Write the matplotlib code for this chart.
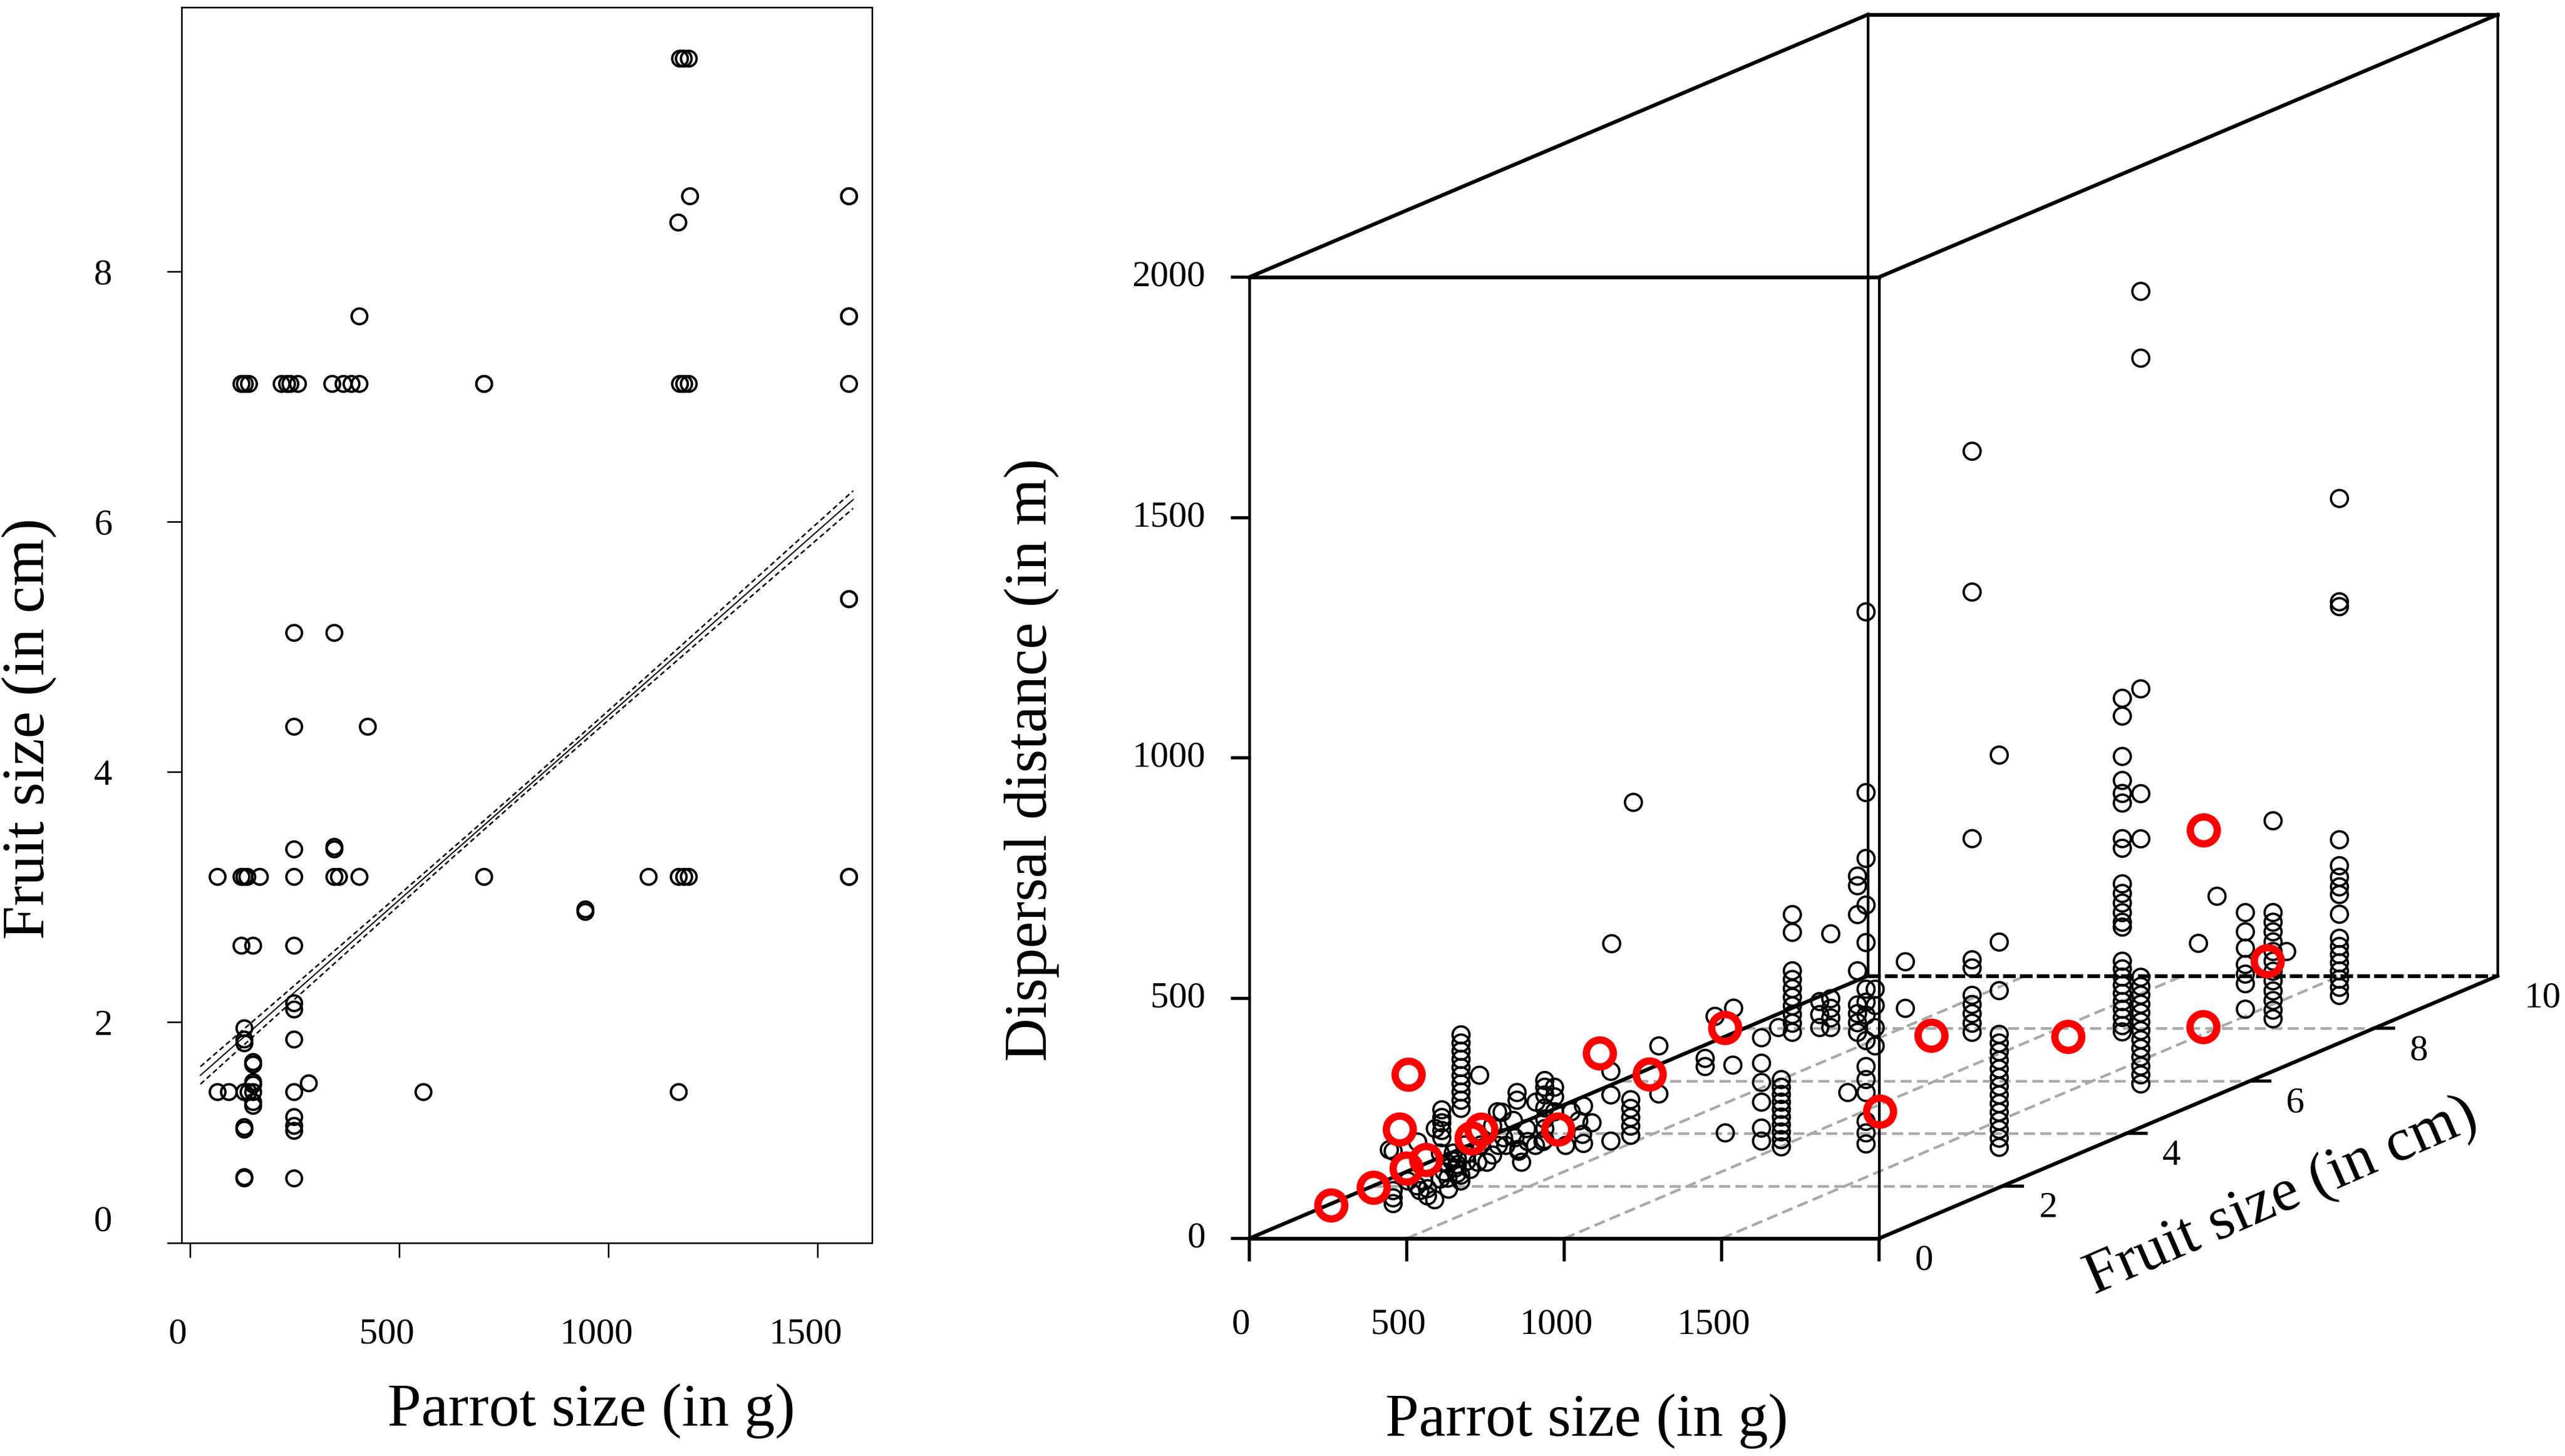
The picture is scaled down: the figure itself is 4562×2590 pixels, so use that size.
import numpy as np
import matplotlib
matplotlib.use("Agg")
import matplotlib.pyplot as plt
from matplotlib.transforms import ScaledTranslation

plt.rcParams['font.family'] = ['Liberation Serif', 'DejaVu Serif']

W, H, DPI = 4562, 2590, 100

# ---------------- left panel data (parrot size g, fruit size cm) ----------------
left_parrot = [1171, 1180, 1192, 1195, 1167, 1575, 1575, 405, 1575, 1575,
               123, 131, 141, 219, 232, 240, 258, 340, 367, 386, 405, 703, 703,
               1171, 1181, 1192, 1575,
               1575, 1575, 249, 345, 249, 425, 249, 345, 345,
               66, 123, 130, 137, 167, 249, 345, 356, 405, 703, 1096, 1168, 1181,
               1192, 1575, 1575,
               945, 945, 123, 151, 249, 249, 249, 130, 130, 130, 249, 151, 151,
               151, 151, 284,
               66, 93, 130, 140, 151, 249, 558, 1168,
               151, 151, 130, 130, 249, 249, 249, 130, 130, 249]
left_fruit = [9.70, 9.70, 9.70, 8.60, 8.39, 8.60, 8.60, 7.64, 7.64, 7.64,
              7.10, 7.10, 7.10, 7.10, 7.10, 7.10, 7.10, 7.10, 7.10, 7.10, 7.10, 7.10, 7.10,
              7.10, 7.10, 7.10, 7.10,
              5.38, 5.38, 5.11, 5.11, 4.36, 4.36, 3.38, 3.38, 3.40,
              3.16, 3.16, 3.16, 3.16, 3.16, 3.16, 3.16, 3.16, 3.16, 3.16, 3.16, 3.16, 3.16,
              3.16, 3.16, 3.16,
              2.88, 2.90, 2.61, 2.61, 2.61, 2.15, 2.10, 1.95, 1.86, 1.83, 1.86, 1.66, 1.68,
              1.52, 1.50, 1.51,
              1.44, 1.44, 1.44, 1.44, 1.44, 1.44, 1.44, 1.44,
              1.36, 1.33, 1.16, 1.14, 1.24, 1.17, 1.13, 0.75, 0.76, 0.75]

fit_intercept = 1.50
fit_slope = 0.00295
fit_range = [25, 1585]
ci_center, ci_spread, ci_mid = 0.035, 7.8e-5, 805

left_xticks = [0, 500, 1000, 1500]
left_ybottom = 0.234
left_yticks = [2, 4, 6, 8]

# ---------------- right panel data (3D: parrot g, fruit cm, distance m) ----------------
col_parrot = [1655, 1680, 1723, 1592, 1502, 1443, 1751, 1378, 1761, 901, 905, 1338, 1367,
              537, 1280, 452, 417, 330, 286, 1069, 1006, 891, 915, 827, 556, 497, 788, 827,
              758, 307, 366, 246, 423, 485, 573, 604, 545, 657, 681, 693, 696, 723, 783, 846,
              221, 209, 306, 330, 353, 318, 383, 371, 436, 466, 490, 519, 537, 555, 579,
              572, 608, 620, 649, 673, 697, 412, 407, 419, 448, 500, 397, 268, 299, 355,
              567, 603, 645, 769, 629, 296, 425, 455, 395]
col_fruit = [9.2, 8.0, 8.0, 8.0, 8.0, 8.0, 5.5, 7.1, 3.16, 7.1, 6.0, 3.16, 3.16,
             7.1, 3.16, 7.1, 7.1, 7.1, 7.1, 3.16, 3.16, 3.16, 3.16, 3.16, 5.0, 5.0, 2.61, 2.0,
             2.0, 1.86, 1.86, 1.86, 1.86, 1.86, 1.86, 1.86, 1.86, 1.86, 1.86, 1.86, 1.86, 1.86,
             1.86, 1.86,
             1.2, 1.2, 1.2, 1.2, 1.2, 1.2, 1.2, 1.2, 1.2, 1.2, 1.2, 1.2, 1.2, 1.2, 1.2,
             1.2, 1.2, 1.2, 1.2, 1.2, 1.2, 1.2, 1.2, 1.2, 1.2, 1.2, 1.2, 1.2, 1.2, 1.2,
             1.2, 1.2, 1.2, 1.2, 1.2, 1.2, 1.2, 1.2, 1.2]
col_dists = [
    [1037, 822, 812, 327, 273, 249, 229, 213, 172, 122, 105, 88, 71, 54, 37, 20, 3],
    [432, 241, 221, 201, 180, 160, 140, 119, 99, 78, 58, 38, 20],
    [160],
    [241, 201, 167, 133, 113, 93, 40],
    [275],
    [177],
    [1670, 1531, 843, 625, 531, 243, 224, 206, 187, 169, 150, 132, 113, 95, 77, 58, 40, 21],
    [736, 699, 615, 565, 538, 518, 444, 424, 350, 330, 310, 290, 270, 260, 189, 173, 156,
     139, 122, 105, 89, 72, 55, 42],
    [833, 444, 343, 252, 234, 216, 198, 180, 162, 144, 126, 108, 90, 72, 54, 36, 17],
    [1250, 957, 444, 192, 175, 118, 99, 80, 60, 41],
    [248, 151],
    [1131, 755, 618, 521, 443, 346, 319, 292, 239, 185, 158, 131, 71, 47, 24],
    [346, 312, 266, 228],
    [366, 346, 286, 169, 98, 80, 61, 41],
    [131],
    [246, 111, 91, 71, 51],
    [105, 78, 51],
    [286, 249, 169, 151, 132, 114, 96, 78, 60, 41],
    [51],
    [158, 142, 127, 111, 96, 80, 64, 49, 33, 18],
    [245, 192, 152, 111, 57, 30],
    [47],
    [188],
    [202, 185],
    [206],
    [189],
    [258, 158],
    [798],
    [504],
    [322, 305, 288, 271, 254, 237, 220, 203, 186, 169],
    [238],
    [166, 150, 139, 123, 108],
    [162],
    [202, 186],
    [227, 213, 197, 170, 147, 127, 104],
    [213, 193, 162],
    [182],
    [162],
    [143],
    [115],
    [96, 174],
    [139],
    [246, 197, 101],
    [187, 169, 150, 132, 113],
    [116, 34, 19, 7], [119], [34], [23, 38], [15], [54], [73], [58, 112], [66, 54],
    [78], [93], [93], [108, 169], [128], [128], [144], [144], [116, 120], [136],
    [128], [136], [112], [97], [81], [129], [129], [37], [54], [135], [163],
    [197], [180], [163], [128], [93], [44], [100, 88, 70], [110, 95], [90, 60],
]

red_parrot = [64, 120, 146, 169, 195, 223, 313, 344, 490, 524, 584, 922, 1414, 988,
              1226, 1557, 1460, 1663]
red_fruit = [1.0, 1.4, 1.8, 2.0, 1.44, 1.44, 2.0, 2.0, 2.5, 3.0, 3.5, 3.0, 3.0, 6.0,
             7.0, 7.5, 8.0, 8.0]
red_dist = [14, 29, 47, 54, 148, 262, 99, 117, 90, 221, 150, 274, 100, 94, 37, 30,
            412, 140]

x3_ticks = [0, 500, 1000, 1500, 2000]
x3_labels = ['0', '500', '1000', '1500', '']
y3_ticks = [0, 2, 4, 6, 8, 10]
z3_ticks = [0, 500, 1000, 1500, 2000]
XMAX, YMAX, ZMAX = 2000, 10, 2000

# ============================================================================
fig = plt.figure(figsize=(W / DPI, H / DPI), dpi=DPI)

# ---------------- left panel ----------------
axL = fig.add_axes([323 / W, (H - 2211) / H, (1551 - 323) / W, (2211 - 13) / H])
axL.scatter(left_parrot, left_fruit, s=400, facecolors='none', edgecolors='black',
            linewidths=3.1, zorder=3)
xs = np.linspace(fit_range[0], fit_range[1], 200)
yfit = fit_intercept + fit_slope * xs
half = np.sqrt(ci_center ** 2 + (ci_spread * (xs - ci_mid)) ** 2)
axL.plot(xs, yfit, color='black', lw=1.6, zorder=2)
axL.plot(xs, yfit + half, color='black', lw=2.0, ls=(0, (3.3, 2.1)), zorder=2)
axL.plot(xs, yfit - half, color='black', lw=2.0, ls=(0, (3.3, 2.1)), zorder=2)
axL.set_xlim(-20, 1630)
axL.set_ylim(left_ybottom, 10.11)
axL.set_xticks(left_xticks)
axL.set_xticklabels([str(t) for t in left_xticks])
axL.set_yticks([left_ybottom] + left_yticks)
axL.set_yticklabels(['0'] + [str(t) for t in left_yticks])
for sp in axL.spines.values():
    sp.set_linewidth(2.0)
axL.tick_params(axis='both', direction='out', length=19, width=2.0, labelsize=47)
axL.tick_params(axis='x', pad=77)
axL.tick_params(axis='y', pad=70)
for lab in axL.get_xticklabels():
    lab.set_transform(lab.get_transform() + ScaledTranslation(-0.22, 0, fig.dpi_scale_trans))
ylabs = axL.get_yticklabels()
ylabs[0].set_transform(ylabs[0].get_transform() + ScaledTranslation(0, 0.44, fig.dpi_scale_trans))

fig.text(1052 / W, 1 - 2510 / H, 'Parrot size (in g)', fontsize=78, ha='center', va='center')
fig.text(52 / W, 1 - 1296 / H, 'Fruit size (in cm)', fontsize=78, ha='center', va='center',
         rotation=90)

# ---------------- right panel (oblique 3D projection) ----------------
ox, oy, fw, fh, dx, dy = 2222, 2203, 1120, 1710, 1100, 467
ku, kv = dx / fw, dy / fh
ax3 = fig.add_axes([ox / W, (H - oy) / H, (fw + dx) / W, (fh + dy) / H])
ax3.set_xlim(0, 1 + ku)
ax3.set_ylim(0, 1 + kv)
ax3.axis('off')


def proj(x, y, z):
    x = np.asarray(x, float)
    y = np.asarray(y, float)
    z = np.asarray(z, float)
    return x / XMAX + ku * y / YMAX, z / ZMAX + kv * y / YMAX


def seg(p0, p1, **kw):
    u, v = proj([p0[0], p1[0]], [p0[1], p1[1]], [p0[2], p1[2]])
    ax3.plot(u, v, clip_on=False, solid_capstyle='projecting', **kw)


grid_kw = dict(color='#a9a9a9', lw=3.4, ls=(0, (4.2, 2.0)), zorder=1)
for xt in x3_ticks[1:-1]:
    seg((xt, 0, 0), (xt, YMAX, 0), **grid_kw)
for yt in y3_ticks[1:-1]:
    seg((0, yt, 0), (XMAX, yt, 0), **grid_kw)

thick = dict(color='black', lw=4.8, zorder=2)
thin = dict(color='black', lw=3.4, zorder=2)
seg((0, 0, 0), (XMAX, 0, 0), **thick)
seg((0, 0, ZMAX), (XMAX, 0, ZMAX), **thick)
seg((0, 0, ZMAX), (0, YMAX, ZMAX), **thick)
seg((0, YMAX, ZMAX), (XMAX, YMAX, ZMAX), **thick)
seg((XMAX, 0, ZMAX), (XMAX, YMAX, ZMAX), **thick)
seg((0, 0, 0), (0, YMAX, 0), **thick)
seg((XMAX, 0, 0), (XMAX, YMAX, 0), **thick)
seg((0, 0, 0), (0, 0, ZMAX), **thin)
seg((XMAX, 0, 0), (XMAX, 0, ZMAX), **thin)
seg((0, YMAX, 0), (0, YMAX, ZMAX), **thin)
seg((XMAX, YMAX, 0), (XMAX, YMAX, ZMAX), **thin)
seg((0, YMAX, 0), (XMAX, YMAX, 0), color='black', lw=4.8, ls=(0, (3.4, 1.1)), zorder=2)

# black points
bx, by, bz = [], [], []
for p, f, ds in zip(col_parrot, col_fruit, col_dists):
    for d in ds:
        bx.append(p)
        by.append(f)
        bz.append(d)
u, v = proj(bx, by, bz)
ax3.scatter(u, v, s=470, facecolors='none', edgecolors='black', linewidths=3.0,
            zorder=3, clip_on=False)
u, v = proj(red_parrot, red_fruit, red_dist)
ax3.scatter(u, v, s=1190, facecolors='none', edgecolors='#ff0000', linewidths=9.4,
            zorder=4, clip_on=False)

# z axis ticks & labels
for zt in z3_ticks:
    u0, v0 = proj(0, 0, zt)
    ax3.plot([u0 - 30 / fw, u0], [v0, v0], color='black', lw=4.0, clip_on=False)
    ax3.text(u0 - 78 / fw, v0, str(zt), fontsize=47, ha='right', va='center')
# x axis ticks & labels
for xt, xl in zip(x3_ticks, x3_labels):
    u0, v0 = proj(xt, 0, 0)
    ax3.plot([u0, u0], [v0 - 38 / fh, v0], color='black', lw=4.0, clip_on=False)
    ax3.text(u0 - 15 / fw, v0 - 154 / fh, xl, fontsize=47, ha='center', va='center')
# y axis ticks & labels
for yt in y3_ticks:
    u0, v0 = proj(XMAX, yt, 0)
    if 0 < yt < YMAX:
        ax3.plot([u0, u0 + 35 / fw], [v0, v0], color='black', lw=4.0, clip_on=False)
    ax3.text(u0 + 80 / fw, v0 - 40 / fh, str(yt), fontsize=47, ha='center', va='center')

fig.text(1835 / W, 1 - 1352 / H, 'Dispersal distance (in m)', fontsize=77, ha='center',
         va='center', rotation=90)
fig.text(2822 / W, 1 - 2528 / H, 'Parrot size (in g)', fontsize=77, ha='center', va='center')
fig.text(4058 / W, 1 - 2130 / H, 'Fruit size (in cm)', fontsize=78, ha='center', va='center',
         rotation=23.5, rotation_mode='anchor')

fig.savefig('out.png', dpi=DPI)
